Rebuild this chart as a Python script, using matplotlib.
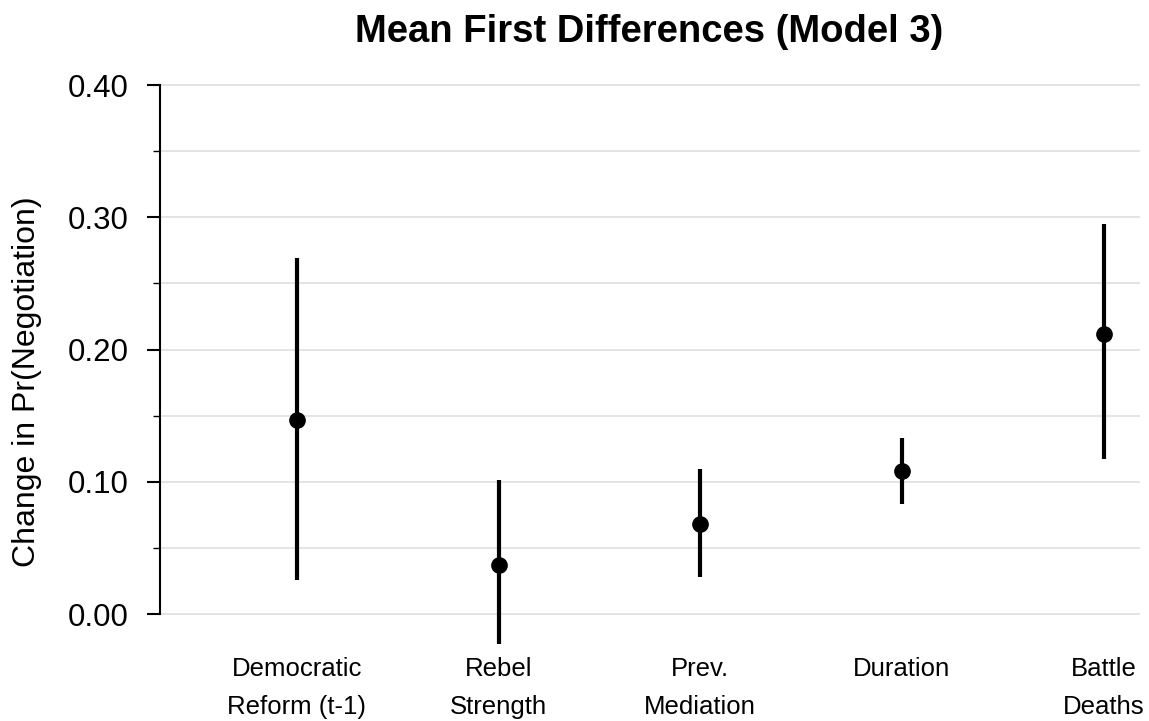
import matplotlib.pyplot as plt
import numpy as np

plt.rcParams['font.family'] = ['Liberation Sans', 'DejaVu Sans']

labels = ['Democratic\nReform (t-1)', 'Rebel\nStrength', 'Prev.\nMediation', 'Duration', 'Battle\nDeaths']
means = [0.147, 0.037, 0.068, 0.108, 0.212]
lower = [0.026, -0.023, 0.028, 0.083, 0.117]
upper = [0.269, 0.101, 0.110, 0.133, 0.295]

x = np.arange(1, len(labels) + 1)

fig = plt.figure(figsize=(11.49, 7.21), dpi=100)
ax = fig.add_axes([0.139, 0.0985, 0.853, 0.7905])

# grid every 0.05
for g in np.arange(0, 0.41, 0.05):
    ax.axhline(g, color='#e2e2e2', lw=1.3, zorder=0)

ax.vlines(x, lower, upper, color='black', lw=3.0, zorder=2)
ax.plot(x, means, 'o', color='black', ms=11, zorder=3)

ax.set_xlim(0.32, 5.18)
ax.set_ylim(-0.0272, 0.4038)

ax.set_yticks([0.0, 0.1, 0.2, 0.3, 0.4])
ax.set_yticklabels(['0.00', '0.10', '0.20', '0.30', '0.40'])
ax.set_yticks(np.arange(0.05, 0.4, 0.1), minor=True)
ax.tick_params(axis='y', which='major', length=9.5, width=1.5, labelsize=22.5, pad=13)
ax.tick_params(axis='y', which='minor', length=5, width=1.0)

ax.set_xticks(x)
ax.set_xticklabels(labels, fontsize=18.5, linespacing=1.72)
ax.tick_params(axis='x', length=0, pad=5)

for s in ['top', 'right', 'bottom']:
    ax.spines[s].set_visible(False)
ax.spines['left'].set_bounds(0, 0.4)
ax.spines['left'].set_linewidth(1.5)

ax.set_ylabel('Change in Pr(Negotiation)', fontsize=23)
ax.yaxis.set_label_coords(-0.12, 0.47)

fig.suptitle('Mean First Differences (Model 3)', fontsize=27.5, fontweight='bold',
             x=0.565, y=0.98, va='top')

fig.savefig('out.png', dpi=100)
